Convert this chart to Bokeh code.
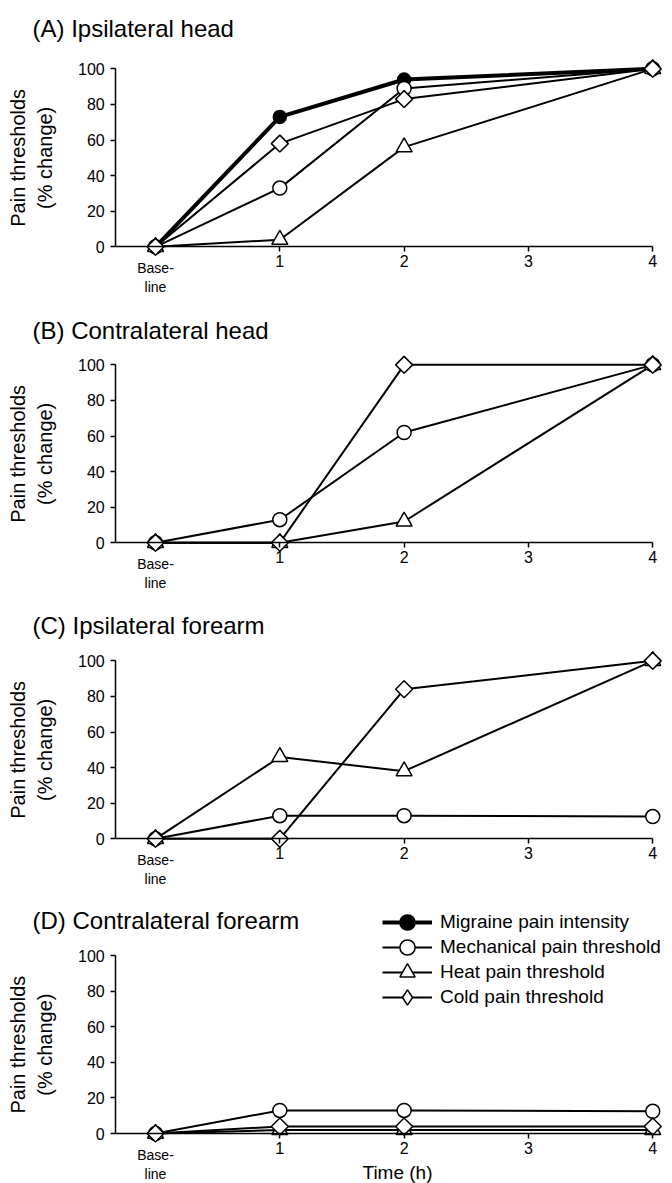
import math
from bokeh.plotting import figure
from bokeh.models import LinearAxis, FixedTicker, Legend, LegendItem, Range1d, Label
from bokeh.layouts import column
from bokeh.embed import file_html
from bokeh.resources import INLINE

# ---------------- data ----------------
TIME_POINTS = [0, 1, 2, 4]          # 0 = baseline
X_TICKS = [1, 2, 3, 4]
Y_TICKS = [0, 20, 40, 60, 80, 100]
BASELINE_LABEL = "Base-\nline"
X_LABEL = "Time (h)"
Y_LABEL = "Pain thresholds\n(% change)"

PANEL_TITLES = ["(A) Ipsilateral head", "(B) Contralateral head",
                "(C) Ipsilateral forearm", "(D) Contralateral forearm"]
SERIES_NAMES = ["Migraine pain intensity", "Mechanical pain threshold",
                "Heat pain threshold", "Cold pain threshold"]

migraine_A = [0, 73, 94, 100]
mechanical_A = [0, 33, 89, 100]
heat_A = [0, 4, 56, 100]
cold_A = [0, 58, 83, 100]

mechanical_B = [0, 13, 62, 100]
heat_B = [0, 0, 12, 100]
cold_B = [0, 0, 100, 100]

mechanical_C = [0, 13, 13, 12.5]
heat_C = [0, 46, 38, 100]
cold_C = [0, 0, 84, 100]

mechanical_D = [0, 13, 13, 12.5]
heat_D = [0, 2, 2, 2]
cold_D = [0, 4, 4, 4]

PANEL_DATA = [
    {"migraine": migraine_A, "mechanical": mechanical_A, "heat": heat_A, "cold": cold_A},
    {"migraine": None, "mechanical": mechanical_B, "heat": heat_B, "cold": cold_B},
    {"migraine": None, "mechanical": mechanical_C, "heat": heat_C, "cold": cold_C},
    {"migraine": None, "mechanical": mechanical_D, "heat": heat_D, "cold": cold_D},
]

# ---------------- style ----------------
FONT = "'Liberation Sans', Arial, Helvetica, sans-serif"
INK = "#000000"
STYLE = {
    "migraine":   dict(marker="circle",   size=13, angle=0.0, fill=INK, lw=4.0),
    "mechanical": dict(marker="circle",   size=14, angle=0.0, fill="white", lw=2.0),
    "heat":       dict(marker="triangle", size=16, angle=0.0, fill="white", lw=2.0),
    "cold":       dict(marker="square",   size=12, angle=math.pi / 4, fill="white", lw=2.0),
}
LEGEND_MARKER = {"migraine": "circle", "mechanical": "circle",
                 "heat": "triangle", "cold": "diamond"}
ORDER = ["migraine", "mechanical", "heat", "cold"]
NO_POINT = ([float("nan")], [float("nan")])   # series absent from a panel

X_START, X_END = -1.247, 4.159      # frame covers the whole canvas width
AXIS_X = -0.32                       # where the y axis is drawn
# height, y_range start, y_range end, title y (screen px from bottom)
LAYOUT = [
    (296, -27.9, 138.4, 268),
    (296, -27.9, 138.4, 262),
    (296, -27.9, 138.4, 263),
    (295, -28.1, 137.8, 263),
]
LEGEND_X = 382
LEGEND_Y = [242, 217, 192, 167]      # bottom of each legend row box (px from bottom)


def make_panel(i):
    height, ystart, yend, title_y = LAYOUT[i]
    data = PANEL_DATA[i]
    p = figure(width=672, height=height,
               x_range=Range1d(X_START, X_END), y_range=Range1d(ystart, yend),
               x_axis_type=None, y_axis_type=None,
               toolbar_location=None, output_backend="svg",
               min_border=0, outline_line_color=None,
               background_fill_color="white", border_fill_color="white")

    yax = LinearAxis(ticker=FixedTicker(ticks=Y_TICKS), bounds=(0, 100),
                     fixed_location=AXIS_X)
    xax = LinearAxis(ticker=FixedTicker(ticks=X_TICKS), fixed_location=0,
                     bounds=(AXIS_X, 4))
    bax = LinearAxis(ticker=FixedTicker(ticks=[0]), fixed_location=0,
                     major_label_overrides={0: BASELINE_LABEL})
    for ax in (yax, xax, bax):
        ax.axis_line_color = INK
        ax.axis_line_width = 1.5
        ax.major_tick_line_color = INK
        ax.major_tick_line_width = 1.5
        ax.major_tick_in = 0
        ax.major_tick_out = 5
        ax.minor_tick_line_color = None
        ax.major_label_text_font = FONT
        ax.major_label_text_color = INK
        ax.major_label_text_font_size = "16px"
    yax.major_label_standoff = 6
    xax.major_label_standoff = 3
    bax.axis_line_color = None
    bax.major_tick_line_color = None
    bax.major_tick_out = 0
    bax.major_label_standoff = 13
    bax.major_label_text_font_size = "14px"

    p.add_layout(yax, "left")
    p.add_layout(xax, "below")
    p.add_layout(bax, "below")

    text_common = dict(text_font=FONT, text_color=INK, text_baseline="middle")
    p.add_layout(Label(x=32, y=title_y, x_units="screen", y_units="screen",
                       text=PANEL_TITLES[i], text_font_size="24px",
                       text_align="left", **text_common))
    p.add_layout(Label(x=31, y=50, x_units="screen", y_units="data",
                       text=Y_LABEL, angle=math.pi / 2, text_font_size="20px",
                       text_align="center", **text_common))
    if i == 3:
        p.add_layout(Label(x=397, y=11, x_units="screen", y_units="screen",
                           text=X_LABEL, text_font_size="19px",
                           text_align="center", **text_common))

    series_xy = {}
    for key in ORDER:
        ys = data[key]
        series_xy[key] = NO_POINT if ys is None else (TIME_POINTS, ys)

    line_r = {}
    for key in ORDER:
        xs, ys = series_xy[key]
        line_r[key] = p.line(xs, ys, line_color=INK, line_width=STYLE[key]["lw"])
    for key in ORDER:
        st = STYLE[key]
        xs, ys = series_xy[key]
        p.scatter(xs, ys, marker=st["marker"], size=st["size"],
                  angle=st["angle"], fill_color=st["fill"],
                  line_color=INK, line_width=1.5)

    if i == 3:
        for row, (name, k) in enumerate(zip(SERIES_NAMES, ORDER)):
            # legend key marker: a renderer with no drawable point in the plot
            key_r = p.scatter(*NO_POINT, marker=LEGEND_MARKER[k],
                              size=STYLE[k]["size"], fill_color=STYLE[k]["fill"],
                              line_color=INK, line_width=1.5)
            legend = Legend(items=[LegendItem(label=name, renderers=[line_r[k], key_r])],
                            location=(LEGEND_X, LEGEND_Y[row]), orientation="vertical",
                            padding=0, margin=0, spacing=0,
                            glyph_width=50, glyph_height=38, label_height=20,
                            label_standoff=8,
                            label_text_font=FONT, label_text_font_size="19px",
                            label_text_color=INK,
                            border_line_color=None, background_fill_alpha=0)
            p.add_layout(legend)
    return p


panels = [make_panel(i) for i in range(4)]
layout = column(*panels, spacing=0)
open("out.html", "w").write(file_html(layout, INLINE))
